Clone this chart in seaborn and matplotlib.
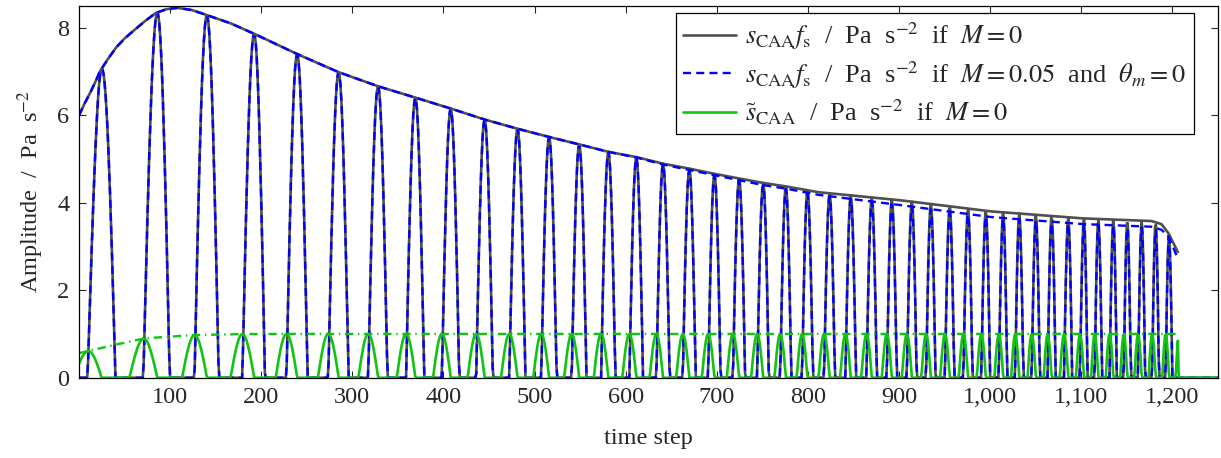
import numpy as np
import pandas as pd
import matplotlib
matplotlib.use("Agg")
import matplotlib.pyplot as plt
import seaborn as sns
from matplotlib.ticker import FuncFormatter

# Peak times of the s_CAA*f_s lobes
peak_t = [24.7, 85.9, 140.4, 192.3, 239.5, 285.0, 328.3, 369.2, 408.0, 445.2,
          481.3, 516.0, 549.0, 581.0, 611.7, 641.0, 669.9, 697.4, 724.5, 750.9,
          775.8, 799.5, 823.8, 847.0, 870.1, 892.1, 914.1, 934.9, 955.6, 975.7,
          995.2, 1014.3, 1031.9, 1050.2, 1067.4, 1085.7, 1102.9, 1118.7, 1135.2,
          1150.5, 1166.3, 1181.6, 1196.3]

# Envelopes
env_t = [0, 6, 12, 18, 23, 32, 41, 50, 60, 72, 84, 96, 108, 124, 141, 166, 192,
         240, 285, 328, 369, 408, 445, 481, 516, 549, 581, 612, 641, 669, 697,
         725, 751, 776, 811, 903, 1001, 1102, 1177, 1188, 1196, 1206]
env_m0 = [5.99, 6.26, 6.50, 6.76, 7.00, 7.29, 7.55, 7.75, 7.93, 8.14, 8.33, 8.42,
          8.45, 8.40, 8.28, 8.10, 7.86, 7.39, 6.98, 6.66, 6.40, 6.15, 5.90, 5.69,
          5.50, 5.33, 5.16, 5.04, 4.89, 4.78, 4.66, 4.55, 4.45, 4.37, 4.24, 4.05,
          3.80, 3.64, 3.58, 3.51, 3.29, 2.87]
env_m005 = [5.99, 6.26, 6.50, 6.76, 7.00, 7.29, 7.55, 7.75, 7.93, 8.14, 8.33, 8.42,
            8.45, 8.40, 8.28, 8.10, 7.86, 7.39, 6.98, 6.66, 6.40, 6.15, 5.90, 5.69,
            5.50, 5.33, 5.16, 5.03, 4.87, 4.75, 4.63, 4.51, 4.40, 4.32, 4.18, 3.94,
            3.67, 3.51, 3.45, 3.38, 3.22, 2.72]

env_tilde_t = [0, 37, 72, 127, 180, 230, 1206]
env_tilde = [0.56, 0.74, 0.90, 0.975, 0.997, 1.0, 1.0]

x_ticks = [100, 200, 300, 400, 500, 600, 700, 800, 900, 1000, 1100, 1200]
y_ticks = [0, 2, 4, 6, 8]

labels = [
    r"$s_{\mathrm{CAA}}f_{\mathrm{s}}$  /  Pa  s$^{-2}$  if  $M = 0$",
    r"$s_{\mathrm{CAA}}f_{\mathrm{s}}$  /  Pa  s$^{-2}$  if  $M = 0.05$  and  $\theta_m = 0$",
    r"$\tilde{s}_{\mathrm{CAA}}$  /  Pa  s$^{-2}$  if  $M = 0$",
]

GRAY = "#505050"
BLUE = "#0000ff"
GREEN = "#11c411"
FS = 17.5

# build the sampled signals (one sample per time step)
t = np.arange(0, 1251)
pk = np.array(peak_t)
ph_pk = np.pi / 2 + 2 * np.pi * np.arange(len(pk))
d0 = pk[1] - pk[0]
d1 = pk[-1] - pk[-2]
kt = np.r_[0, pk, 1250]
kph = np.r_[ph_pk[0] - 2 * np.pi * pk[0] / d0, ph_pk,
            ph_pk[-1] + 2 * np.pi * (1250 - pk[-1]) / d1]
phase = np.interp(t, kt, kph)

sig_m0 = np.interp(t, env_t, env_m0, right=0) * np.clip(np.sin(phase), 0, None)
sig_m005 = np.interp(t, env_t, env_m005, right=0) * np.clip(np.sin(phase), 0, None)
sig_tilde = np.interp(t, env_tilde_t, env_tilde, right=0) * np.clip(np.cos(phase), 0, None)

df = pd.DataFrame({"t": t, "m0": sig_m0, "m005": sig_m005, "tilde": sig_tilde})

sns.set_style("ticks")
plt.rcParams["font.family"] = ["Liberation Serif", "DejaVu Serif"]
plt.rcParams["mathtext.fontset"] = "stix"

fig = plt.figure(figsize=(12.21, 4.58), dpi=100)
ax = fig.add_axes([0.0647, 0.1753, 0.9328, 0.8123])

sns.lineplot(data=df, x="t", y="m0", color=GRAY, lw=1.9, label=labels[0], ax=ax)
sns.lineplot(data=df, x="t", y="m005", color=BLUE, lw=1.7,
             ls=(0, (3.4, 2.2)), label=labels[1], ax=ax)
sns.lineplot(data=df, x="t", y="tilde", color=GREEN, lw=1.9, label=labels[2], ax=ax)

sns.lineplot(x=env_t, y=env_m0, color=GRAY, lw=1.9, ax=ax)
sns.lineplot(x=env_t, y=env_m005, color=BLUE, lw=1.7, ls=(0, (3.4, 2.2)), ax=ax)
sns.lineplot(x=env_tilde_t, y=env_tilde, color=GREEN, lw=1.7,
             ls=(0, (3.5, 2.0, 0.6, 2.0)), ax=ax)

ax.set_xlim(0, 1250)
ax.set_ylim(0, 8.5)
ax.set_xticks(x_ticks)
ax.set_yticks(y_ticks)
ax.xaxis.set_major_formatter(FuncFormatter(lambda v, p: f"{int(v):,}"))
ax.tick_params(direction="in", top=True, right=True, length=5, width=0.8,
               labelsize=FS, pad=7)
for s in ax.spines.values():
    s.set_linewidth(0.9)
    s.set_color("black")

ax.set_xlabel("time step", fontsize=FS, labelpad=14)
ax.set_ylabel(r"Amplitude  /  Pa  s$^{-2}$", fontsize=FS, labelpad=8)

leg = ax.legend(loc="upper right", bbox_to_anchor=(0.979, 0.9796), borderaxespad=0,
                fontsize=19, frameon=True, fancybox=False, edgecolor="black",
                framealpha=1, handlelength=2.0, handletextpad=0.35,
                labelspacing=0.25, borderpad=0.28)
leg.get_frame().set_linewidth(0.9)

fig.savefig("out.png", dpi=100)
